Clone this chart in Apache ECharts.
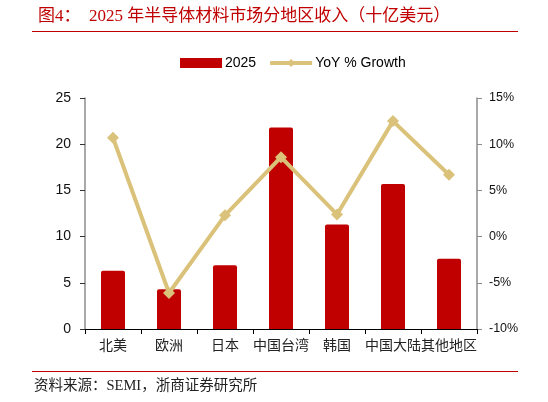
<!DOCTYPE html>
<html>
<head>
<meta charset="utf-8">
<script src="https://cdn.jsdelivr.net/npm/echarts@6/dist/echarts.min.js"></script>
<style>
  html, body { margin: 0; padding: 0; background: #fff; }
  #chart { width: 548px; height: 402px; }
</style>
</head>
<body>
<div id="chart"></div>
<script>
// 地区
const regions = ['北美', '欧洲', '日本', '中国台湾', '韩国', '中国大陆', '其他地区']
// 2025 收入（十亿美元）
const revenue2025 = [6.3, 4.3, 6.9, 21.8, 11.3, 15.7, 7.6]
// 同比增速（%）
const yoyGrowth = [10.7, -6.1, 2.3, 8.6, 2.4, 12.5, 6.7]

const red = '#c00000'
const gold = '#dbc27a'
const cjk = '"Liberation Serif", "Noto Sans CJK SC", serif'
const latin = '"Liberation Sans", Arial, "Noto Sans CJK SC", sans-serif'

const chart = echarts.init(document.getElementById('chart'))
chart.setOption({
  animation: false,
  title: {
    text: '图4：  2025 年半导体材料市场分地区收入（十亿美元）',
    left: 33,
    top: 3,
    textStyle: {
      color: red,
      fontFamily: cjk,
      fontSize: 17,
      fontWeight: 'normal'
    }
  },
  graphic: [
    { type: 'line', shape: { x1: 32, y1: 31.5, x2: 518, y2: 31.5 }, style: { stroke: red, lineWidth: 1 } },
    { type: 'line', shape: { x1: 32, y1: 371.5, x2: 518, y2: 371.5 }, style: { stroke: red, lineWidth: 1 } },
    {
      type: 'text',
      left: 34,
      top: 379,
      style: { text: '资料来源：SEMI，浙商证券研究所', fill: '#222', font: '14.5px ' + cjk }
    }
  ],
  legend: {
    top: 51,
    left: 175,
    itemGap: 12,
    itemWidth: 42,
    itemHeight: 10,
    textStyle: { color: '#000', fontFamily: latin, fontSize: 14, padding: [0, 0, 0, -2] },
    data: [
      { name: '2025', icon: 'rect' },
      { name: 'YoY % Growth', lineStyle: { width: 4 } }
    ]
  },
  grid: { left: 85, right: 71, top: 98, bottom: 73 },
  xAxis: {
    type: 'category',
    data: regions,
    axisLine: { lineStyle: { color: '#000', width: 1 } },
    axisTick: { show: true, length: 5, lineStyle: { color: '#000' } },
    axisLabel: { color: '#222', fontFamily: latin, fontSize: 14, margin: 10, interval: 0 }
  },
  yAxis: [
    {
      type: 'value',
      min: 0,
      max: 25,
      interval: 5,
      splitLine: { show: false },
      axisLine: { show: true, lineStyle: { color: '#8c8c8c', width: 1.5 } },
      axisTick: { show: true, length: 5, lineStyle: { color: '#333' } },
      axisLabel: { color: '#111', fontFamily: latin, fontSize: 14, margin: 14 }
    },
    {
      type: 'value',
      min: -10,
      max: 15,
      interval: 5,
      splitLine: { show: false },
      axisLine: { show: true, lineStyle: { color: '#8c8c8c', width: 1.5 } },
      axisTick: { show: true, length: 5, lineStyle: { color: '#8c8c8c' } },
      axisLabel: { color: '#111', fontFamily: latin, fontSize: 12.5, margin: 12, formatter: '{value}%' }
    }
  ],
  series: [
    {
      name: '2025',
      type: 'bar',
      data: revenue2025,
      barWidth: 24,
      itemStyle: { color: red, borderRadius: [2, 2, 0, 0] }
    },
    {
      name: 'YoY % Growth',
      type: 'line',
      yAxisIndex: 1,
      data: yoyGrowth,
      symbol: 'diamond',
      symbolSize: 12,
      lineStyle: { color: gold, width: 4 },
      itemStyle: { color: gold }
    }
  ]
})
</script>
</body>
</html>
